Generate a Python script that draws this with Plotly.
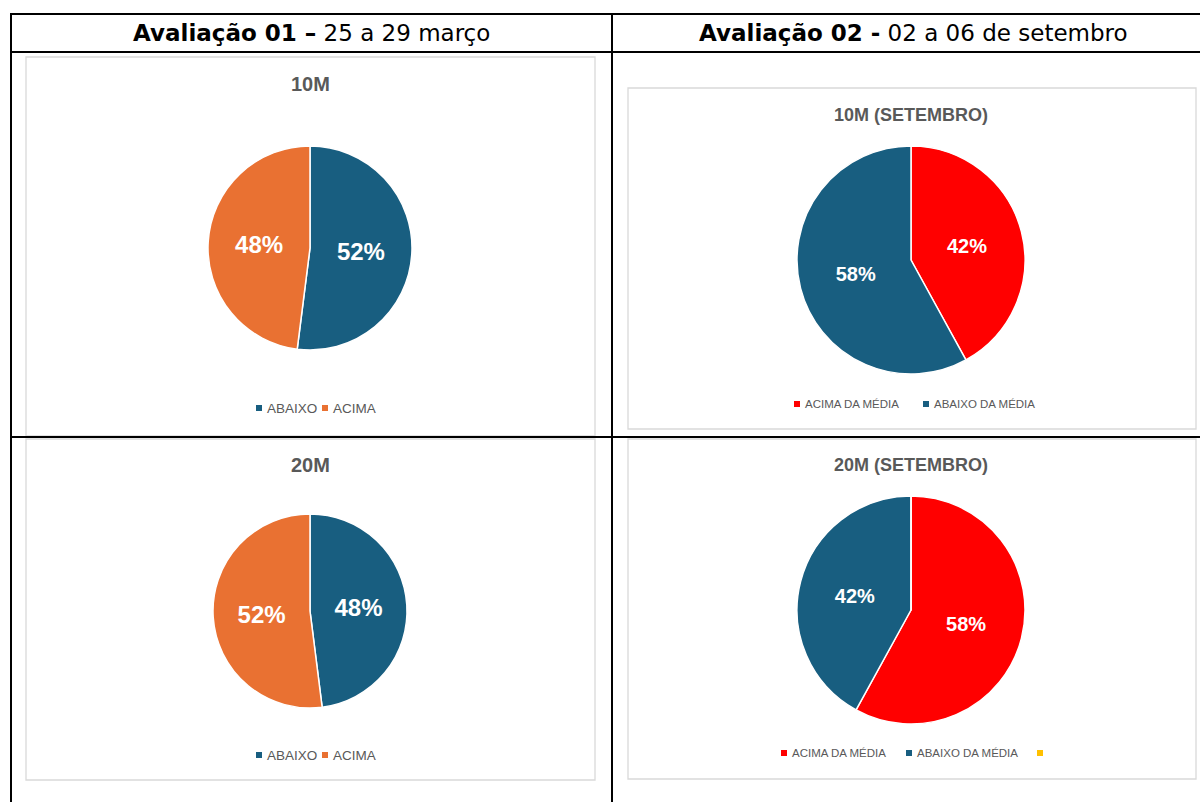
import plotly.graph_objects as go

W, H = 1200, 802

BLUE = "#185E80"
ORANGE = "#E97132"
RED = "#FF0000"
YELLOW = "#FFC000"

# data
headers_bold = ["Avaliação 01 –", "Avaliação 02 -"]
headers_rest = ["25 a 29 março", "02 a 06 de setembro"]

titles = ["10M", "10M (SETEMBRO)", "20M", "20M (SETEMBRO)"]

labels_mar = ["ABAIXO", "ACIMA"]
labels_set = ["ACIMA DA MÉDIA", "ABAIXO DA MÉDIA"]
labels_set20 = ["ACIMA DA MÉDIA", "ABAIXO DA MÉDIA", ""]

values_10m_mar = [52, 48]
values_10m_set = [42, 58]
values_20m_mar = [48, 52]
values_20m_set = [58, 42, 0]

colors_mar = [BLUE, ORANGE]
colors_set = [RED, BLUE]
colors_set20 = [RED, BLUE, YELLOW]

# layout of each panel (pixel positions)
panels = [
    dict(title=titles[0], labels=labels_mar, values=values_10m_mar, colors=colors_mar,
         box=(26, 57, 595, 436), c=(310, 248), r=102, ty=84, tsize=20, psize=24,
         leg_y=408, leg_x=[259, 325], lsize=13.5),
    dict(title=titles[1], labels=labels_set, values=values_10m_set, colors=colors_set,
         box=(628, 88, 1196, 429), c=(911, 260), r=114, ty=115, tsize=18, psize=20,
         leg_y=404, leg_x=[797, 926], lsize=11.5),
    dict(title=titles[2], labels=labels_mar, values=values_20m_mar, colors=colors_mar,
         box=(26, 439, 595, 780), c=(310, 611), r=97, ty=465, tsize=20, psize=24,
         leg_y=755, leg_x=[259, 325], lsize=13.5),
    dict(title=titles[3], labels=labels_set20, values=values_20m_set, colors=colors_set20,
         box=(628, 439, 1196, 779), c=(911, 610), r=114, ty=465, tsize=18, psize=20,
         leg_y=753, leg_x=[784, 909, 1040], lsize=11.5),
]

fig = go.Figure()
shapes = []
annotations = []

# table grid
for y in [14, 52, 437]:
    shapes.append(dict(type="line", xref="x", yref="y", x0=10, x1=W, y0=y, y1=y,
                       line=dict(color="black", width=2)))
for x in [11, 612]:
    shapes.append(dict(type="line", xref="x", yref="y", x0=x, x1=x, y0=14, y1=H,
                       line=dict(color="black", width=2)))

for i, hx in enumerate([311, 913]):
    annotations.append(dict(x=hx, y=33, xref="x", yref="y", showarrow=False,
                            text=f"<b>{headers_bold[i]}</b> {headers_rest[i]}",
                            font=dict(family="DejaVu Sans", size=23, color="black")))

for p in panels:
    x0, y0, x1, y1 = p["box"]
    shapes.append(dict(type="rect", xref="x", yref="y", x0=x0, y0=y0, x1=x1, y1=y1,
                       line=dict(color="#D9D9D9", width=1.3), fillcolor="white", layer="below"))
    cx, cy = p["c"]
    r = p["r"]
    fig.add_trace(go.Pie(
        labels=p["labels"], values=p["values"],
        marker=dict(colors=p["colors"], line=dict(color="white", width=1.5)),
        sort=False, direction="clockwise", rotation=0,
        texttemplate="%{percent:.0%}", textposition="inside",
        insidetextfont=dict(family="Liberation Sans", size=p["psize"], color="white", weight="bold"),
        showlegend=False, hoverinfo="label+percent",
        domain=dict(x=[(cx - r) / W, (cx + r) / W], y=[1 - (cy + r) / H, 1 - (cy - r) / H]),
    ))
    annotations.append(dict(x=cx, y=p["ty"], xref="x", yref="y", showarrow=False,
                            text=f"<b>{p['title']}</b>",
                            font=dict(family="Liberation Sans", size=p["tsize"], color="#595959")))
    for lab, col, lx in zip(p["labels"], p["colors"], p["leg_x"]):
        ly = p["leg_y"]
        shapes.append(dict(type="rect", xref="x", yref="y", x0=lx - 3, x1=lx + 3,
                           y0=ly - 3, y1=ly + 3, fillcolor=col, line=dict(width=0)))
        if lab:
            annotations.append(dict(x=lx + 6, y=ly, xref="x", yref="y", showarrow=False,
                                    xanchor="left", text=lab,
                                    font=dict(family="Liberation Sans", size=p["lsize"], color="#595959")))

fig.update_layout(
    width=W, height=H,
    margin=dict(l=0, r=0, t=0, b=0),
    paper_bgcolor="white", plot_bgcolor="white",
    xaxis=dict(range=[0, W], visible=False, fixedrange=True),
    yaxis=dict(range=[H, 0], visible=False, fixedrange=True),
    shapes=shapes, annotations=annotations,
)

fig.write_html("out.html", config={"displayModeBar": False},
               post_script="document.body.style.margin='0';")
